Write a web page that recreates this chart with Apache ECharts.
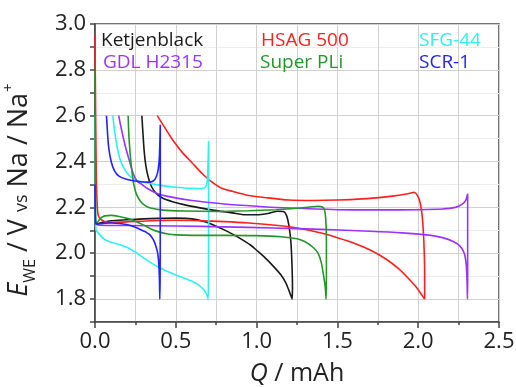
<!DOCTYPE html>
<html>
<head>
<meta charset="utf-8">
<script src="https://cdn.jsdelivr.net/npm/echarts@6.0.0/dist/echarts.min.js"></script>
<style>
  html, body { margin: 0; padding: 0; background: #fff; }
  #chart { width: 516px; height: 387px; }
</style>
</head>
<body>
<div id="chart"></div>
<script>
// values: [Q / mAh, E / V]
// each sample: discharge from Q=0 down to 1.8 V, then charge plotted back towards Q=0 up to 2.6 V
const names = ['Ketjenblack', 'HSAG 500', 'SFG-44', 'GDL H2315', 'Super PLi', 'SCR-1']
const colors = ['#1a1a1a', '#ff1f1f', '#2ef0f0', '#9a33ff', '#24962a', '#2323ff']

const ketjenDischarge = [[0, 2.125], [0.05, 2.135], [0.1, 2.142], [0.2, 2.146], [0.3, 2.15], [0.4, 2.152], [0.5, 2.153], [0.6, 2.15], [0.68, 2.137], [0.75, 2.118], [0.8, 2.102], [0.86, 2.08], [0.9, 2.064], [0.96, 2.037], [1.0, 2.013], [1.05, 1.982], [1.1, 1.946], [1.15, 1.906], [1.18, 1.872], [1.2, 1.838], [1.215, 1.81], [1.22, 1.8]]
const ketjenCharge = [[1.222, 1.85], [1.219, 1.95], [1.212, 2.05], [1.2, 2.12], [1.185, 2.165], [1.165, 2.182], [1.13, 2.183], [1.08, 2.175], [1.0, 2.168], [0.93, 2.168], [0.85, 2.176], [0.75, 2.186], [0.65, 2.198], [0.55, 2.212], [0.48, 2.225], [0.42, 2.24], [0.38, 2.26], [0.35, 2.29], [0.33, 2.33], [0.315, 2.38], [0.305, 2.44], [0.297, 2.52], [0.29, 2.6]]

const hsagDischarge = [[0, 2.95], [0.004, 2.6], [0.008, 2.35], [0.013, 2.22], [0.02, 2.165], [0.04, 2.145], [0.08, 2.135], [0.2, 2.137], [0.35, 2.142], [0.5, 2.144], [0.65, 2.142], [0.8, 2.138], [0.95, 2.132], [1.1, 2.123], [1.25, 2.11], [1.4, 2.088], [1.5, 2.068], [1.6, 2.045], [1.7, 2.015], [1.8, 1.975], [1.88, 1.932], [1.94, 1.89], [1.99, 1.85], [2.02, 1.82], [2.04, 1.8]]
const hsagCharge = [[2.04, 1.9], [2.035, 2.05], [2.025, 2.16], [2.012, 2.22], [1.995, 2.252], [1.975, 2.266], [1.95, 2.262], [1.88, 2.253], [1.8, 2.246], [1.65, 2.237], [1.5, 2.232], [1.35, 2.23], [1.2, 2.232], [1.05, 2.243], [0.95, 2.252], [0.85, 2.27], [0.78, 2.285], [0.72, 2.312], [0.66, 2.35], [0.6, 2.395], [0.54, 2.44], [0.48, 2.495], [0.43, 2.55], [0.385, 2.6]]

const sfgDischarge = [[0, 2.6], [0.002, 2.2], [0.005, 2.105], [0.03, 2.08], [0.06, 2.06], [0.1, 2.048], [0.15, 2.038], [0.2, 2.025], [0.25, 2.005], [0.3, 1.98], [0.35, 1.957], [0.4, 1.937], [0.45, 1.92], [0.5, 1.905], [0.55, 1.892], [0.6, 1.878], [0.64, 1.862], [0.67, 1.843], [0.69, 1.822], [0.7, 1.8]]
const sfgCharge = [[0.702, 1.9], [0.703, 2.2], [0.703, 2.49], [0.699, 2.38], [0.694, 2.31], [0.685, 2.29], [0.66, 2.282], [0.6, 2.283], [0.5, 2.288], [0.4, 2.297], [0.3, 2.31], [0.25, 2.32], [0.21, 2.34], [0.18, 2.37], [0.155, 2.41], [0.135, 2.47], [0.122, 2.53], [0.11, 2.6]]

const gdlDischarge = [[0, 2.13], [0.03, 2.122], [0.2, 2.121], [0.5, 2.119], [0.8, 2.115], [1.1, 2.11], [1.4, 2.104], [1.7, 2.096], [1.9, 2.089], [2.05, 2.08], [2.15, 2.068], [2.22, 2.05], [2.26, 2.03], [2.285, 2.0], [2.297, 1.95], [2.302, 1.88], [2.305, 1.8]]
const gdlCharge = [[2.306, 1.9], [2.306, 2.1], [2.306, 2.26], [2.295, 2.232], [2.27, 2.213], [2.23, 2.2], [2.15, 2.193], [2.0, 2.19], [1.8, 2.189], [1.5, 2.19], [1.2, 2.197], [1.0, 2.205], [0.8, 2.215], [0.6, 2.23], [0.45, 2.248], [0.38, 2.262], [0.33, 2.28], [0.29, 2.3], [0.26, 2.315], [0.235, 2.35], [0.21, 2.41], [0.19, 2.46], [0.17, 2.52], [0.155, 2.57], [0.147, 2.6]]

const superDischarge = [[0, 2.8], [0.002, 2.4], [0.004, 2.15], [0.01, 2.13], [0.03, 2.15], [0.06, 2.163], [0.1, 2.165], [0.15, 2.16], [0.2, 2.152], [0.25, 2.14], [0.3, 2.123], [0.35, 2.105], [0.4, 2.092], [0.45, 2.084], [0.5, 2.08], [0.6, 2.078], [0.8, 2.078], [1.0, 2.077], [1.15, 2.072], [1.25, 2.063], [1.3, 2.05], [1.35, 2.025], [1.38, 2.0], [1.4, 1.96], [1.415, 1.9], [1.425, 1.85], [1.43, 1.8]]
const superCharge = [[1.432, 1.9], [1.432, 2.05], [1.428, 2.15], [1.42, 2.19], [1.405, 2.203], [1.38, 2.205], [1.33, 2.202], [1.25, 2.196], [1.12, 2.19], [0.95, 2.185], [0.75, 2.182], [0.55, 2.184], [0.42, 2.188], [0.35, 2.196], [0.31, 2.208], [0.28, 2.228], [0.255, 2.26], [0.24, 2.3], [0.228, 2.36], [0.218, 2.43], [0.21, 2.51], [0.205, 2.6]]

const scrDischarge = [[0, 2.3], [0.003, 2.14], [0.01, 2.128], [0.05, 2.13], [0.1, 2.132], [0.15, 2.13], [0.2, 2.124], [0.25, 2.113], [0.29, 2.1], [0.32, 2.09], [0.34, 2.08], [0.36, 2.06], [0.375, 2.035], [0.388, 2.0], [0.395, 1.95], [0.399, 1.88], [0.401, 1.8]]
const scrCharge = [[0.403, 1.9], [0.404, 2.2], [0.404, 2.56], [0.399, 2.43], [0.392, 2.37], [0.38, 2.335], [0.36, 2.315], [0.33, 2.31], [0.28, 2.312], [0.2, 2.322], [0.15, 2.335], [0.12, 2.36], [0.1, 2.4], [0.085, 2.46], [0.077, 2.53], [0.071, 2.6]]

const curves = [
  ketjenDischarge.concat(ketjenCharge),
  hsagDischarge.concat(hsagCharge),
  sfgDischarge.concat(sfgCharge),
  gdlDischarge.concat(gdlCharge),
  superDischarge.concat(superCharge),
  scrDischarge.concat(scrCharge)
]

// legend text placement (colored names, no symbols)
const legendPos = [[101, 41], [261, 41], [419, 41], [103, 63], [260, 63], [419, 63]]

const font = 'Open Sans'
const gridColor = '#d0d0d0'
const chart = echarts.init(document.getElementById('chart'))

chart.setOption({
  backgroundColor: '#fff',
  animation: false,
  grid: {
    left: 95,
    right: 17,
    top: 24,
    bottom: 65,
    containLabel: false,
    outerBoundsMode: 'none',
    show: true,
    borderColor: '#444',
    borderWidth: 1.5
  },
  xAxis: {
    type: 'value',
    min: 0,
    max: 2.5,
    interval: 0.5,
    name: '{q|Q} / mAh',
    nameLocation: 'middle',
    nameGap: 39,
    nameTextStyle: {
      fontFamily: font,
      fontSize: 25,
      color: '#222',
      rich: {
        q: { fontFamily: font, fontSize: 25, fontStyle: 'italic', color: '#222' }
      }
    },
    axisLine: { onZero: false, lineStyle: { color: '#444', width: 1.5 } },
    axisTick: { inside: false, length: 6, lineStyle: { color: '#444', width: 1.5 } },
    minorTick: { show: true, splitNumber: 2, length: 3, lineStyle: { color: '#444', width: 1.5 } },
    axisLabel: {
      margin: 9,
      fontFamily: font,
      fontSize: 22,
      color: '#222',
      formatter: function(v) { return v.toFixed(1) }
    },
    splitLine: { show: true, lineStyle: { color: gridColor, width: 1 } },
    minorSplitLine: { show: true, lineStyle: { color: gridColor, width: 1 } }
  },
  yAxis: {
    type: 'value',
    min: 1.7,
    max: 3.0,
    interval: 0.1,
    name: '{e|E}{sub|WE}{t| / V }{vs|vs}{t| Na / Na}{sup|+}',
    nameLocation: 'middle',
    nameGap: 62,
    nameTextStyle: {
      fontFamily: font,
      color: '#222',
      padding: [0, 34, 0, 0],
      rich: {
        e: { fontFamily: font, fontSize: 27, fontStyle: 'italic', color: '#222', lineHeight: 32, verticalAlign: 'bottom' },
        t: { fontFamily: font, fontSize: 27, color: '#222', lineHeight: 32, verticalAlign: 'bottom' },
        vs: { fontFamily: font, fontSize: 18, color: '#222', lineHeight: 32, verticalAlign: 'bottom', padding: [0, 0, 2, 0] },
        sub: { fontFamily: font, fontSize: 16, color: '#222', lineHeight: 32, verticalAlign: 'bottom', padding: [0, 0, -5, 0] },
        sup: { fontFamily: font, fontSize: 15, color: '#222', lineHeight: 32, verticalAlign: 'top', padding: [0, 0, 0, 1] }
      }
    },
    axisLine: { onZero: false, lineStyle: { color: '#444', width: 1.5 } },
    axisTick: { inside: false, length: 5, lineStyle: { color: '#444', width: 1.5 } },
    axisLabel: {
      margin: 9,
      fontFamily: font,
      fontSize: 22,
      color: '#222',
      formatter: function(v) {
        return Math.round(v * 10) % 2 === 0 ? v.toFixed(1) : ''
      }
    },
    splitLine: {
      show: true,
      lineStyle: { color: ['#ececec', gridColor], width: 1 }
    }
  },
  graphic: names.map(function(n, i) {
    return {
      type: 'text',
      x: legendPos[i][0],
      y: legendPos[i][1],
      z: 100,
      style: {
        text: n,
        fill: colors[i],
        font: '19px "Open Sans"',
        textVerticalAlign: 'middle'
      }
    }
  }),
  series: curves.map(function(d, i) {
    return {
      name: names[i],
      type: 'line',
      data: d,
      showSymbol: false,
      smooth: 0.25,
      clip: true,
      lineStyle: { color: colors[i], width: 1.6 },
      itemStyle: { color: colors[i] }
    }
  })
})
</script>
</body>
</html>
